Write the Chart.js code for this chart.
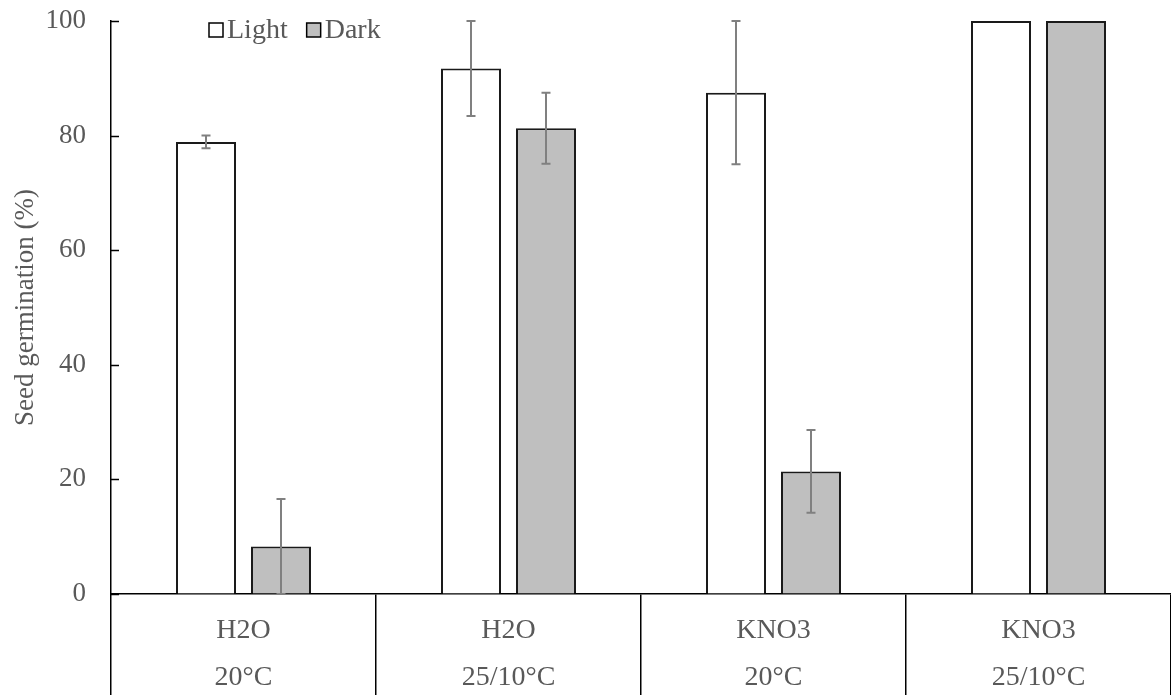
<!DOCTYPE html>
<html>
<head>
<meta charset="utf-8">
<script src="https://cdn.jsdelivr.net/npm/chart.js@4.4.1/dist/chart.umd.min.js"></script>
<style>
    html, body { margin: 0; padding: 0; background: #fff; }
    #wrap { width: 1171px; height: 695px; }
</style>
</head>
<body>
<div id="wrap"><canvas id="germChart" width="1171" height="695"></canvas></div>
<script>
// --- Dados ---
const solutions = ['H2O', 'H2O', 'KNO3', 'KNO3'];
const temperatures = ['20°C', '25/10°C', '20°C', '25/10°C'];
const lightValues = [78.9, 91.7, 87.5, 100];
const lightErrors = [1.1, 8.3, 12.5, 0];
const darkValues = [8.3, 81.3, 21.4, 100];
const darkErrors = [8.3, 6.2, 7.2, 0];
const yTicks = [0, 20, 40, 60, 80, 100];

const FONT = '"Liberation Serif", "Times New Roman", serif';
const TEXT_GRAY = '#595959';

// --- Barras de erro ---
const errorBars = {
    id: 'errorBars',
    afterDatasetsDraw(chart) {
        const { ctx, scales: { y } } = chart;
        ctx.save();
        ctx.strokeStyle = '#808080';
        ctx.lineWidth = 2;
        chart.data.datasets.forEach((ds, i) => {
            const meta = chart.getDatasetMeta(i);
            meta.data.forEach((bar, j) => {
                const err = ds.errors[j];
                if (!err) return;
                const v = ds.data[j];
                const top = y.getPixelForValue(v + err);
                const bottom = y.getPixelForValue(Math.max(0, v - err));
                ctx.beginPath();
                ctx.moveTo(bar.x, top);
                ctx.lineTo(bar.x, bottom);
                ctx.moveTo(bar.x - 4.5, top);
                ctx.lineTo(bar.x + 4.5, top);
                ctx.moveTo(bar.x - 4.5, bottom);
                ctx.lineTo(bar.x + 4.5, bottom);
                ctx.stroke();
            });
        });
        ctx.restore();
    }
};

// --- Marcas do eixo Y voltadas para dentro ---
const innerTicks = {
    id: 'innerTicks',
    afterDraw(chart) {
        const { ctx, scales: { y } } = chart;
        ctx.save();
        ctx.strokeStyle = '#000';
        ctx.lineWidth = 1.5;
        yTicks.forEach(t => {
            const py = Math.round(y.getPixelForValue(t)) + 0.5;
            ctx.beginPath();
            ctx.moveTo(y.right, py);
            ctx.lineTo(y.right + 8, py);
            ctx.stroke();
        });
        ctx.restore();
    }
};

// --- Legenda dentro da área do gráfico ---
const insideLegend = {
    id: 'insideLegend',
    afterDraw(chart) {
        const { ctx } = chart;
        let x = 209;
        const yMid = 30;
        ctx.save();
        ctx.font = '28px ' + FONT;
        ctx.textBaseline = 'middle';
        chart.data.datasets.forEach(ds => {
            ctx.fillStyle = ds.backgroundColor;
            ctx.fillRect(x, yMid - 7, 14, 14);
            ctx.strokeStyle = '#000';
            ctx.lineWidth = 1.5;
            ctx.strokeRect(x, yMid - 7, 14, 14);
            ctx.fillStyle = TEXT_GRAY;
            ctx.fillText(ds.label, x + 18, yMid + 1);
            x += 18 + ctx.measureText(ds.label).width + 19;
        });
        ctx.restore();
    }
};

const ctx = document.getElementById('germChart').getContext('2d');
const germChart = new Chart(ctx, {
    type: 'bar',
    data: {
        labels: solutions.map((s, i) => [s, temperatures[i]]),
        datasets: [{
            label: 'Light',
            data: lightValues,
            errors: lightErrors,
            backgroundColor: '#ffffff',
            borderColor: '#1a1a1a',
            borderWidth: 2
        }, {
            label: 'Dark',
            data: darkValues,
            errors: darkErrors,
            backgroundColor: '#bfbfbf',
            borderColor: '#1a1a1a',
            borderWidth: 2
        }]
    },
    options: {
        responsive: false,
        animation: false,
        categoryPercentage: 0.566,
        barPercentage: 0.8,
        layout: { padding: { top: 21, left: 0, right: 0, bottom: 0 } },
        plugins: {
            legend: { display: false },
            tooltip: { enabled: false }
        },
        scales: {
            x: {
                offset: true,
                border: { display: true, color: '#000', width: 1.5 },
                grid: {
                    offset: true,
                    drawOnChartArea: false,
                    drawTicks: true,
                    tickLength: 101,
                    color: '#000',
                    lineWidth: 1.5
                },
                ticks: {
                    color: TEXT_GRAY,
                    font: { family: FONT, size: 28, lineHeight: 1.68 },
                    padding: -88,
                    maxRotation: 0,
                    autoSkip: false
                },
                afterFit(scale) { scale.height = 101; }
            },
            y: {
                min: 0,
                max: 100,
                border: { display: true, color: '#000', width: 1.5 },
                // marcas invisíveis só para afastar os rótulos do eixo
                grid: {
                    display: true,
                    drawOnChartArea: false,
                    drawTicks: true,
                    tickLength: 25,
                    color: 'rgba(0,0,0,0)'
                },
                ticks: {
                    stepSize: 20,
                    color: TEXT_GRAY,
                    padding: 0,
                    font: { family: FONT, size: 27 }
                },
                title: {
                    display: true,
                    text: 'Seed germination (%)',
                    color: TEXT_GRAY,
                    font: { family: FONT, size: 27 },
                    padding: { top: 10, bottom: 0 }
                },
                afterFit(scale) { scale.width = 111; }
            }
        }
    },
    plugins: [errorBars, innerTicks, insideLegend]
});
</script>
</body>
</html>
